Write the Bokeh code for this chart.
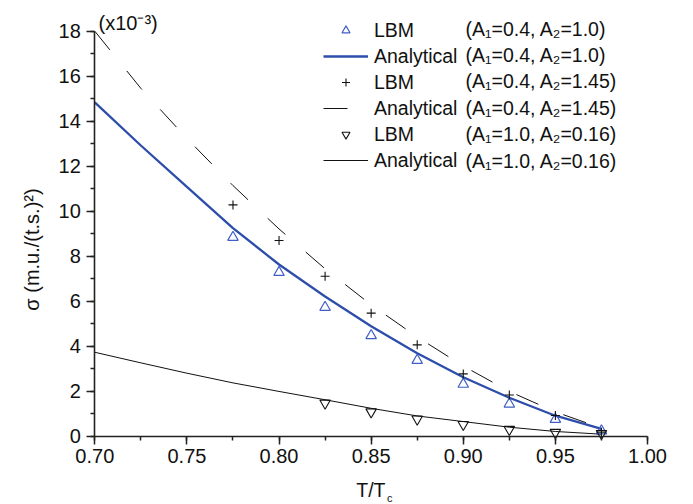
from bokeh.plotting import figure
from bokeh.models import (Range1d, SingleIntervalTicker, PrintfTickFormatter,
                          Legend, LegendItem, Label)
from bokeh.embed import file_html
from bokeh.resources import INLINE
import math

# ---------------- data (sigma in units of 1e-3) ----------------
x_lbm = [0.775, 0.800, 0.825, 0.850, 0.875, 0.900, 0.925, 0.950, 0.975]
s_lbm_a = [8.84, 7.28, 5.73, 4.47, 3.37, 2.31, 1.43, 0.75, 0.24]      # A1=0.4, A2=1.0
s_lbm_b = [10.28, 8.70, 7.11, 5.47, 4.06, 2.77, 1.83, 0.92, 0.18]     # A1=0.4, A2=1.45
x_lbm_c = [0.825, 0.850, 0.875, 0.900, 0.925, 0.950, 0.975]
s_lbm_c = [1.47, 1.08, 0.76, 0.52, 0.30, 0.17, 0.12]                   # A1=1.0, A2=0.16

x_an = [0.700, 0.725, 0.750, 0.775, 0.800, 0.825, 0.850, 0.875, 0.900, 0.925, 0.950, 0.975]
s_an_a = [14.84, 12.92, 11.08, 9.25, 7.63, 6.21, 4.89, 3.69, 2.62, 1.71, 0.91, 0.33]
s_an_b = [18.00, 15.46, 13.23, 11.14, 9.21, 7.44, 5.84, 4.41, 3.12, 1.99, 1.08, 0.36]
s_an_c = [3.73, 3.26, 2.80, 2.37, 1.99, 1.62, 1.24, 0.90, 0.65, 0.40, 0.21, 0.09]

legend_names = ["LBM", "Analytical", "LBM", "Analytical", "LBM", "Analytical"]
legend_params = ["(A\u2081=0.4, A\u2082=1.0)", "(A\u2081=0.4, A\u2082=1.0)",
                 "(A\u2081=0.4, A\u2082=1.45)", "(A\u2081=0.4, A\u2082=1.45)",
                 "(A\u2081=1.0, A\u2082=0.16)", "(A\u2081=1.0, A\u2082=0.16)"]

FONT = "Liberation Sans"
BLUE_LINE = "#2D4DAA"
BLUE_MARK = "#3F5FC4"
INK = "#111111"

# ---------------- canvas geometry ----------------
W, H = 693, 504
X0_PX, X1_PX = 94.3, 647.0      # pixel columns of T/Tc = 0.70 and 1.00
Y0_PX, Y18_PX = 435.7, 30.7     # pixel rows of sigma = 0 and 18
kx = (X1_PX - X0_PX) / 0.30
ky = (Y0_PX - Y18_PX) / 18.0


def dx(px):
    return 0.70 + (px - X0_PX) / kx


def dy(py):
    return (Y0_PX - py) / ky


p = figure(width=W, height=H, output_backend="svg", toolbar_location=None,
           x_range=Range1d(dx(0), dx(W)), y_range=Range1d(dy(H), dy(0)),
           min_border=0, min_border_left=0, min_border_right=0,
           min_border_top=0, min_border_bottom=0)
p.outline_line_color = None
p.grid.visible = False
p.background_fill_color = "white"
p.border_fill_color = "white"

# axes, pinned to T/Tc = 0.70 and sigma = 0
p.xaxis.fixed_location = 0
p.yaxis.fixed_location = 0.70
p.xaxis.bounds = (0.70, 1.00)
p.yaxis.bounds = (0, 18)
p.xaxis.ticker = SingleIntervalTicker(interval=0.05, num_minor_ticks=2)
p.yaxis.ticker = SingleIntervalTicker(interval=2, num_minor_ticks=2)
p.xaxis.formatter = PrintfTickFormatter(format="%.2f")
p.yaxis.formatter = PrintfTickFormatter(format="%d")
for ax in (p.xaxis, p.yaxis):
    ax.axis_line_color = "#222222"
    ax.axis_line_width = 1.6
    ax.major_tick_line_color = "#222222"
    ax.minor_tick_line_color = "#222222"
    ax.major_tick_line_width = 1.5
    ax.minor_tick_line_width = 1.5
    ax.major_tick_in = 0
    ax.major_tick_out = 8
    ax.minor_tick_in = 0
    ax.minor_tick_out = 4
    ax.major_label_text_font = FONT
    ax.major_label_text_font_size = "20px"
    ax.major_label_text_color = INK
p.xaxis.major_label_standoff = 5
p.yaxis.major_label_standoff = 6

# analytical curves
r_an_a = p.line(x_an, s_an_a, line_color=BLUE_LINE, line_width=2.3)
r_an_b = p.line(x_an, s_an_b, line_color=INK, line_width=1.0, line_dash="24 27")
r_an_c = p.line(x_an, s_an_c, line_color=INK, line_width=1.0)

# LBM points
r_lbm_a = p.scatter(x_lbm, s_lbm_a, marker="triangle", size=10.5, fill_color=None,
                    line_color=BLUE_MARK, line_width=1.2)
r_lbm_b = p.scatter(x_lbm, s_lbm_b, marker="cross", size=9, line_color=INK, line_width=1.1)
r_lbm_c = p.scatter(x_lbm_c, s_lbm_c, marker="inverted_triangle", size=10.5, fill_color=None,
                    line_color=INK, line_width=1.1)

# ---------------- legend ----------------
LEG_FONT = 19.5
ROWH = 1.2 * LEG_FONT          # height Bokeh gives each legend row
SPACING = 3
PITCH = ROWH + SPACING
ROW0 = 28.0
renderers = [r_lbm_a, r_an_a, r_lbm_b, r_an_b, r_lbm_c, r_an_c]
items = [LegendItem(label=n, renderers=[r]) for n, r in zip(legend_names, renderers)]
leg_h = 6 * ROWH + 5 * SPACING
leg_top = ROW0 - ROWH / 2
legend = Legend(items=items, location=(323, H - (leg_top + leg_h)), margin=0, padding=0,
                glyph_width=45, glyph_height=20, label_height=20, spacing=SPACING,
                label_standoff=6, border_line_color=None, background_fill_alpha=0,
                label_text_font=FONT, label_text_font_size=f"{LEG_FONT}px",
                label_text_color=INK)
p.add_layout(legend, "center")

for i, txt in enumerate(legend_params):
    p.add_layout(Label(x=dx(465), y=dy(ROW0 + PITCH * i), text=txt,
                       text_font=FONT, text_font_size=f"{LEG_FONT}px", text_color=INK,
                       text_align="left", text_baseline="middle"))

# multiplier label
p.add_layout(Label(x=dx(98), y=dy(22.3), text="(x10\u207B\u00B3)",
                   text_font=FONT, text_font_size="20px", text_color=INK,
                   text_align="left", text_baseline="alphabetic"))

# y axis title
p.add_layout(Label(x=dx(31.7), y=dy(249), text="\u03C3 (m.u./(t.s.)\u00B2)", angle=math.pi / 2,
                   text_font=FONT, text_font_size="20px", text_color=INK,
                   text_align="center", text_baseline="middle"))

# x axis title  T/Tc
p.add_layout(Label(x=dx(385), y=dy(489.3), text="T/T",
                   text_font=FONT, text_font_size="19.5px", text_color=INK,
                   text_align="right", text_baseline="alphabetic"))
p.add_layout(Label(x=dx(386.5), y=dy(497), text="c",
                   text_font=FONT, text_font_size="11px", text_color=INK,
                   text_align="left", text_baseline="alphabetic"))

open("out.html", "w").write(file_html(p, INLINE))
